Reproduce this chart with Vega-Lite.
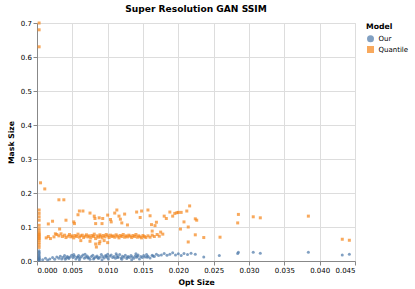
{
  "$schema": "https://vega.github.io/schema/vega-lite/v6.json",
  "width": 318,
  "height": 238,
  "padding": {"left": 7, "top": 5, "right": 3, "bottom": 3},
  "title": "Super Resolution GAN SSIM",
  "config": {
    "font": "DejaVu Sans",
    "title": {"fontSize": 9.1, "offset": 4.5},
    "axis": {"labelFontSize": 7, "titleFontSize": 7.7, "tickSize": 4, "labelPadding": 1.6, "titlePadding": 4.5},
    "legend": {"titleFontSize": 7.7, "labelFontSize": 7, "symbolSize": 49, "rowPadding": 2.8, "titlePadding": 3.5, "offset": 11, "labelOffset": 3.5}
  },
  "data": {"values": [
    {"Model":"Our","opt":0.0003,"mask":0.002},{"Model":"Our","opt":0.0003,"mask":0.006},{"Model":"Our","opt":0.0003,"mask":0.01},{"Model":"Our","opt":0.0003,"mask":0.014},{"Model":"Our","opt":0.0003,"mask":0.018},{"Model":"Our","opt":0.0003,"mask":0.022},{"Model":"Our","opt":0.0003,"mask":0.026},{"Model":"Our","opt":0.0003,"mask":0.03},{"Model":"Our","opt":0.0003,"mask":0.004},{"Model":"Our","opt":0.0003,"mask":0.008},
    {"Model":"Our","opt":0.0008,"mask":0.004},{"Model":"Our","opt":0.0012,"mask":0.008},{"Model":"Our","opt":0.0015,"mask":0.003},{"Model":"Our","opt":0.0018,"mask":0.006},{"Model":"Our","opt":0.0022,"mask":0.01},{"Model":"Our","opt":0.0025,"mask":0.005},{"Model":"Our","opt":0.0028,"mask":0.012},{"Model":"Our","opt":0.0031,"mask":0.008},{"Model":"Our","opt":0.0033,"mask":0.014},{"Model":"Our","opt":0.0035,"mask":0.006},
    {"Model":"Our","opt":0.0037,"mask":0.011},{"Model":"Our","opt":0.0039,"mask":0.016},{"Model":"Our","opt":0.0041,"mask":0.009},{"Model":"Our","opt":0.0043,"mask":0.013},{"Model":"Our","opt":0.0045,"mask":0.007},{"Model":"Our","opt":0.0047,"mask":0.012},{"Model":"Our","opt":0.0049,"mask":0.017},{"Model":"Our","opt":0.0051,"mask":0.01},{"Model":"Our","opt":0.0053,"mask":0.014},{"Model":"Our","opt":0.0055,"mask":0.006},
    {"Model":"Our","opt":0.0057,"mask":0.012},{"Model":"Our","opt":0.0059,"mask":0.016},{"Model":"Our","opt":0.0061,"mask":0.009},{"Model":"Our","opt":0.0063,"mask":0.013},{"Model":"Our","opt":0.0065,"mask":0.018},{"Model":"Our","opt":0.0067,"mask":0.008},{"Model":"Our","opt":0.0069,"mask":0.012},{"Model":"Our","opt":0.0071,"mask":0.015},{"Model":"Our","opt":0.0073,"mask":0.01},{"Model":"Our","opt":0.0075,"mask":0.005},
    {"Model":"Our","opt":0.0077,"mask":0.013},{"Model":"Our","opt":0.0079,"mask":0.017},{"Model":"Our","opt":0.0081,"mask":0.009},{"Model":"Our","opt":0.0083,"mask":0.012},{"Model":"Our","opt":0.0085,"mask":0.015},{"Model":"Our","opt":0.0087,"mask":0.007},{"Model":"Our","opt":0.0089,"mask":0.011},{"Model":"Our","opt":0.0091,"mask":0.019},{"Model":"Our","opt":0.0093,"mask":0.013},{"Model":"Our","opt":0.0095,"mask":0.009},
    {"Model":"Our","opt":0.0097,"mask":0.016},{"Model":"Our","opt":0.0099,"mask":0.011},{"Model":"Our","opt":0.0101,"mask":0.006},{"Model":"Our","opt":0.0103,"mask":0.014},{"Model":"Our","opt":0.0105,"mask":0.018},{"Model":"Our","opt":0.0107,"mask":0.01},{"Model":"Our","opt":0.0109,"mask":0.013},{"Model":"Our","opt":0.0111,"mask":0.008},{"Model":"Our","opt":0.0113,"mask":0.016},{"Model":"Our","opt":0.0115,"mask":0.012},
    {"Model":"Our","opt":0.0117,"mask":0.019},{"Model":"Our","opt":0.0119,"mask":0.009},{"Model":"Our","opt":0.0121,"mask":0.014},{"Model":"Our","opt":0.0123,"mask":0.011},{"Model":"Our","opt":0.0125,"mask":0.017},{"Model":"Our","opt":0.0127,"mask":0.007},{"Model":"Our","opt":0.0129,"mask":0.013},{"Model":"Our","opt":0.0131,"mask":0.01},{"Model":"Our","opt":0.0133,"mask":0.016},{"Model":"Our","opt":0.0135,"mask":0.012},
    {"Model":"Our","opt":0.0137,"mask":0.008},{"Model":"Our","opt":0.0139,"mask":0.015},{"Model":"Our","opt":0.0141,"mask":0.011},{"Model":"Our","opt":0.0143,"mask":0.018},{"Model":"Our","opt":0.0145,"mask":0.006},{"Model":"Our","opt":0.0147,"mask":0.013},{"Model":"Our","opt":0.0149,"mask":0.01},{"Model":"Our","opt":0.0151,"mask":0.016},{"Model":"Our","opt":0.0153,"mask":0.012},{"Model":"Our","opt":0.0155,"mask":0.019},
    {"Model":"Our","opt":0.0157,"mask":0.014},{"Model":"Our","opt":0.016,"mask":0.009},{"Model":"Our","opt":0.0163,"mask":0.017},{"Model":"Our","opt":0.0166,"mask":0.013},{"Model":"Our","opt":0.0169,"mask":0.02},{"Model":"Our","opt":0.0172,"mask":0.016},{"Model":"Our","opt":0.0176,"mask":0.018},{"Model":"Our","opt":0.018,"mask":0.022},{"Model":"Our","opt":0.0184,"mask":0.017},{"Model":"Our","opt":0.0188,"mask":0.02},
    {"Model":"Our","opt":0.0192,"mask":0.024},{"Model":"Our","opt":0.0196,"mask":0.018},{"Model":"Our","opt":0.02,"mask":0.021},{"Model":"Our","opt":0.0204,"mask":0.016},{"Model":"Our","opt":0.0208,"mask":0.022},{"Model":"Our","opt":0.0213,"mask":0.019},{"Model":"Our","opt":0.0218,"mask":0.023},{"Model":"Our","opt":0.0224,"mask":0.02},{"Model":"Our","opt":0.0236,"mask":0.012},{"Model":"Our","opt":0.0258,"mask":0.016},
    {"Model":"Our","opt":0.0284,"mask":0.022},{"Model":"Our","opt":0.0285,"mask":0.026},{"Model":"Our","opt":0.0306,"mask":0.026},{"Model":"Our","opt":0.0316,"mask":0.023},{"Model":"Our","opt":0.0384,"mask":0.026},{"Model":"Our","opt":0.0432,"mask":0.018},{"Model":"Our","opt":0.0442,"mask":0.02},
    {"Model":"Our","opt":0.004,"mask":0.005},{"Model":"Our","opt":0.006,"mask":0.004},{"Model":"Our","opt":0.008,"mask":0.006},{"Model":"Our","opt":0.01,"mask":0.02},{"Model":"Our","opt":0.012,"mask":0.005},{"Model":"Our","opt":0.014,"mask":0.021},{"Model":"Our","opt":0.0092,"mask":0.004},{"Model":"Our","opt":0.0112,"mask":0.021},{"Model":"Our","opt":0.0134,"mask":0.004},{"Model":"Our","opt":0.0068,"mask":0.02},{"Model":"Our","opt":0.0052,"mask":0.019},
    {"Model":"Our","opt":0.0044,"mask":0.01},{"Model":"Our","opt":0.0058,"mask":0.011},{"Model":"Our","opt":0.0072,"mask":0.009},{"Model":"Our","opt":0.0086,"mask":0.01},{"Model":"Our","opt":0.0098,"mask":0.014},{"Model":"Our","opt":0.0114,"mask":0.01},{"Model":"Our","opt":0.0128,"mask":0.011},{"Model":"Our","opt":0.0142,"mask":0.014},{"Model":"Our","opt":0.0156,"mask":0.011},{"Model":"Our","opt":0.0164,"mask":0.015},
    {"Model":"Quantile","opt":0.0003,"mask":0.70},{"Model":"Quantile","opt":0.0003,"mask":0.68},{"Model":"Quantile","opt":0.0003,"mask":0.63},{"Model":"Quantile","opt":0.0003,"mask":0.15},{"Model":"Quantile","opt":0.0003,"mask":0.14},{"Model":"Quantile","opt":0.0003,"mask":0.13},{"Model":"Quantile","opt":0.0003,"mask":0.12},{"Model":"Quantile","opt":0.0003,"mask":0.105},{"Model":"Quantile","opt":0.0003,"mask":0.095},{"Model":"Quantile","opt":0.0003,"mask":0.088},
    {"Model":"Quantile","opt":0.0003,"mask":0.082},{"Model":"Quantile","opt":0.0003,"mask":0.078},{"Model":"Quantile","opt":0.0003,"mask":0.074},{"Model":"Quantile","opt":0.0003,"mask":0.07},{"Model":"Quantile","opt":0.0003,"mask":0.066},{"Model":"Quantile","opt":0.0003,"mask":0.062},{"Model":"Quantile","opt":0.0003,"mask":0.055},{"Model":"Quantile","opt":0.0003,"mask":0.048},{"Model":"Quantile","opt":0.0003,"mask":0.04},
    {"Model":"Quantile","opt":0.0005,"mask":0.23},{"Model":"Quantile","opt":0.0011,"mask":0.212},{"Model":"Quantile","opt":0.0016,"mask":0.109},{"Model":"Quantile","opt":0.0022,"mask":0.117},{"Model":"Quantile","opt":0.0031,"mask":0.18},{"Model":"Quantile","opt":0.0038,"mask":0.18},{"Model":"Quantile","opt":0.0041,"mask":0.12},{"Model":"Quantile","opt":0.0032,"mask":0.094},{"Model":"Quantile","opt":0.0026,"mask":0.08},
    {"Model":"Quantile","opt":0.006,"mask":0.147},{"Model":"Quantile","opt":0.0065,"mask":0.147},{"Model":"Quantile","opt":0.0058,"mask":0.136},{"Model":"Quantile","opt":0.0052,"mask":0.115},{"Model":"Quantile","opt":0.0053,"mask":0.11},{"Model":"Quantile","opt":0.0075,"mask":0.141},{"Model":"Quantile","opt":0.0081,"mask":0.132},{"Model":"Quantile","opt":0.0083,"mask":0.11},{"Model":"Quantile","opt":0.0082,"mask":0.125},{"Model":"Quantile","opt":0.0088,"mask":0.127},
    {"Model":"Quantile","opt":0.0093,"mask":0.125},{"Model":"Quantile","opt":0.0092,"mask":0.11},{"Model":"Quantile","opt":0.01,"mask":0.135},{"Model":"Quantile","opt":0.0104,"mask":0.122},{"Model":"Quantile","opt":0.0105,"mask":0.115},{"Model":"Quantile","opt":0.011,"mask":0.141},{"Model":"Quantile","opt":0.0113,"mask":0.15},{"Model":"Quantile","opt":0.0116,"mask":0.132},{"Model":"Quantile","opt":0.0118,"mask":0.123},{"Model":"Quantile","opt":0.012,"mask":0.112},
    {"Model":"Quantile","opt":0.0124,"mask":0.138},{"Model":"Quantile","opt":0.0128,"mask":0.106},{"Model":"Quantile","opt":0.0141,"mask":0.144},{"Model":"Quantile","opt":0.0146,"mask":0.128},{"Model":"Quantile","opt":0.0148,"mask":0.147},{"Model":"Quantile","opt":0.0157,"mask":0.15},{"Model":"Quantile","opt":0.016,"mask":0.133},{"Model":"Quantile","opt":0.0162,"mask":0.107},{"Model":"Quantile","opt":0.0167,"mask":0.104},{"Model":"Quantile","opt":0.0169,"mask":0.114},
    {"Model":"Quantile","opt":0.0163,"mask":0.088},{"Model":"Quantile","opt":0.0175,"mask":0.085},{"Model":"Quantile","opt":0.018,"mask":0.132},{"Model":"Quantile","opt":0.0183,"mask":0.125},{"Model":"Quantile","opt":0.0188,"mask":0.144},{"Model":"Quantile","opt":0.0192,"mask":0.132},{"Model":"Quantile","opt":0.0195,"mask":0.14},{"Model":"Quantile","opt":0.0198,"mask":0.142},{"Model":"Quantile","opt":0.02,"mask":0.143},{"Model":"Quantile","opt":0.0204,"mask":0.143},
    {"Model":"Quantile","opt":0.0212,"mask":0.147},{"Model":"Quantile","opt":0.0216,"mask":0.162},{"Model":"Quantile","opt":0.0203,"mask":0.094},{"Model":"Quantile","opt":0.0208,"mask":0.115},{"Model":"Quantile","opt":0.0214,"mask":0.1},{"Model":"Quantile","opt":0.0214,"mask":0.056},{"Model":"Quantile","opt":0.0224,"mask":0.124},{"Model":"Quantile","opt":0.0226,"mask":0.12},{"Model":"Quantile","opt":0.0224,"mask":0.077},{"Model":"Quantile","opt":0.0236,"mask":0.069},
    {"Model":"Quantile","opt":0.0259,"mask":0.07},{"Model":"Quantile","opt":0.0285,"mask":0.137},{"Model":"Quantile","opt":0.0284,"mask":0.112},{"Model":"Quantile","opt":0.0306,"mask":0.13},{"Model":"Quantile","opt":0.0316,"mask":0.127},{"Model":"Quantile","opt":0.0384,"mask":0.132},{"Model":"Quantile","opt":0.0432,"mask":0.064},{"Model":"Quantile","opt":0.0442,"mask":0.061},
    {"Model":"Quantile","opt":0.0013,"mask":0.068},{"Model":"Quantile","opt":0.0016,"mask":0.072},{"Model":"Quantile","opt":0.0019,"mask":0.066},{"Model":"Quantile","opt":0.0024,"mask":0.071},{"Model":"Quantile","opt":0.0028,"mask":0.078},{"Model":"Quantile","opt":0.0031,"mask":0.074},{"Model":"Quantile","opt":0.0034,"mask":0.08},{"Model":"Quantile","opt":0.0036,"mask":0.072},{"Model":"Quantile","opt":0.0039,"mask":0.076},{"Model":"Quantile","opt":0.0041,"mask":0.069},
    {"Model":"Quantile","opt":0.0044,"mask":0.073},{"Model":"Quantile","opt":0.0046,"mask":0.078},{"Model":"Quantile","opt":0.0048,"mask":0.071},{"Model":"Quantile","opt":0.005,"mask":0.074},{"Model":"Quantile","opt":0.0052,"mask":0.068},{"Model":"Quantile","opt":0.0054,"mask":0.075},{"Model":"Quantile","opt":0.0056,"mask":0.072},{"Model":"Quantile","opt":0.0058,"mask":0.079},{"Model":"Quantile","opt":0.006,"mask":0.07},{"Model":"Quantile","opt":0.0062,"mask":0.074},
    {"Model":"Quantile","opt":0.0064,"mask":0.076},{"Model":"Quantile","opt":0.0066,"mask":0.069},{"Model":"Quantile","opt":0.0068,"mask":0.073},{"Model":"Quantile","opt":0.007,"mask":0.077},{"Model":"Quantile","opt":0.0072,"mask":0.071},{"Model":"Quantile","opt":0.0074,"mask":0.074},{"Model":"Quantile","opt":0.0076,"mask":0.068},{"Model":"Quantile","opt":0.0078,"mask":0.075},{"Model":"Quantile","opt":0.008,"mask":0.072},{"Model":"Quantile","opt":0.0081,"mask":0.079},
    {"Model":"Quantile","opt":0.0083,"mask":0.066},{"Model":"Quantile","opt":0.0085,"mask":0.074},{"Model":"Quantile","opt":0.0087,"mask":0.07},{"Model":"Quantile","opt":0.0089,"mask":0.077},{"Model":"Quantile","opt":0.009,"mask":0.073},{"Model":"Quantile","opt":0.0092,"mask":0.068},{"Model":"Quantile","opt":0.0094,"mask":0.075},{"Model":"Quantile","opt":0.0096,"mask":0.071},{"Model":"Quantile","opt":0.0098,"mask":0.078},{"Model":"Quantile","opt":0.01,"mask":0.074},
    {"Model":"Quantile","opt":0.0102,"mask":0.069},{"Model":"Quantile","opt":0.0104,"mask":0.076},{"Model":"Quantile","opt":0.0106,"mask":0.072},{"Model":"Quantile","opt":0.0108,"mask":0.074},{"Model":"Quantile","opt":0.011,"mask":0.07},{"Model":"Quantile","opt":0.0112,"mask":0.077},{"Model":"Quantile","opt":0.0114,"mask":0.073},{"Model":"Quantile","opt":0.0116,"mask":0.068},{"Model":"Quantile","opt":0.0118,"mask":0.075},{"Model":"Quantile","opt":0.012,"mask":0.072},
    {"Model":"Quantile","opt":0.0122,"mask":0.078},{"Model":"Quantile","opt":0.0124,"mask":0.07},{"Model":"Quantile","opt":0.0126,"mask":0.074},{"Model":"Quantile","opt":0.0128,"mask":0.071},{"Model":"Quantile","opt":0.013,"mask":0.076},{"Model":"Quantile","opt":0.0132,"mask":0.073},{"Model":"Quantile","opt":0.0134,"mask":0.069},{"Model":"Quantile","opt":0.0136,"mask":0.075},{"Model":"Quantile","opt":0.0138,"mask":0.072},{"Model":"Quantile","opt":0.014,"mask":0.078},
    {"Model":"Quantile","opt":0.0142,"mask":0.07},{"Model":"Quantile","opt":0.0144,"mask":0.074},{"Model":"Quantile","opt":0.0146,"mask":0.071},{"Model":"Quantile","opt":0.0148,"mask":0.068},{"Model":"Quantile","opt":0.015,"mask":0.075},{"Model":"Quantile","opt":0.0152,"mask":0.072},{"Model":"Quantile","opt":0.0154,"mask":0.069},{"Model":"Quantile","opt":0.0157,"mask":0.074},{"Model":"Quantile","opt":0.016,"mask":0.07},{"Model":"Quantile","opt":0.0163,"mask":0.076},
    {"Model":"Quantile","opt":0.0166,"mask":0.072},{"Model":"Quantile","opt":0.017,"mask":0.078},{"Model":"Quantile","opt":0.0173,"mask":0.073},{"Model":"Quantile","opt":0.0178,"mask":0.079},
    {"Model":"Quantile","opt":0.0084,"mask":0.041},{"Model":"Quantile","opt":0.0083,"mask":0.05},{"Model":"Quantile","opt":0.0089,"mask":0.057},{"Model":"Quantile","opt":0.0088,"mask":0.051},{"Model":"Quantile","opt":0.01,"mask":0.054},{"Model":"Quantile","opt":0.0095,"mask":0.06},{"Model":"Quantile","opt":0.0062,"mask":0.06},{"Model":"Quantile","opt":0.0075,"mask":0.058}
  ]},
  "mark": {"type": "point", "filled": true, "size": 9},
  "encoding": {
    "x": {"field": "opt", "type": "quantitative", "title": "Opt Size", "scale": {"domain": [0, 0.045]}},
    "y": {"field": "mask", "type": "quantitative", "title": "Mask Size"},
    "color": {"field": "Model", "type": "nominal", "scale": {"domain": ["Our", "Quantile"], "range": ["#4c78a8", "#f58518"]}},
    "shape": {"field": "Model", "type": "nominal", "scale": {"domain": ["Our", "Quantile"], "range": ["circle", "square"]}}
  }
}
